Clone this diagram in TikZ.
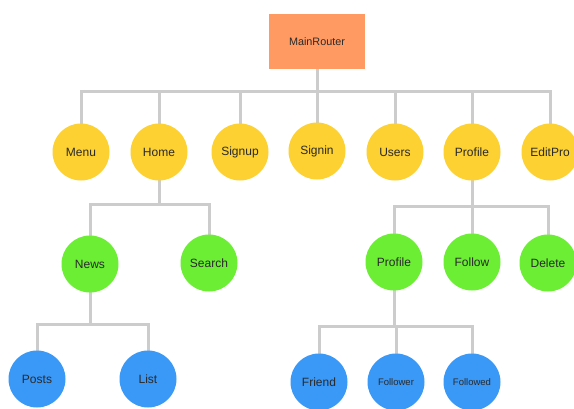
\documentclass[tikz,border=0pt]{standalone}
\usepackage{fontspec}
\setmainfont{Liberation Sans}
\usetikzlibrary{backgrounds}
\definecolor{cOrange}{HTML}{FF9A63}
\definecolor{cYellow}{HTML}{FCD131}
\definecolor{cGreen}{HTML}{6BEE33}
\definecolor{cBlue}{HTML}{3A98F7}
\definecolor{cLine}{HTML}{CCCCCC}
\definecolor{cText}{HTML}{2A2A2A}
\begin{document}
\begin{tikzpicture}[x=1pt,y=-1pt,
  circ/.style={circle,minimum size=57pt,inner sep=0pt,text=cText,font=\fontsize{12}{14}\selectfont},
  yel/.style={circ,fill=cYellow},
  grn/.style={circ,fill=cGreen},
  blu/.style={circ,fill=cBlue},
  small/.style={font=\fontsize{9.5}{11}\selectfont},
  conn/.style={draw=cLine,line width=3pt,line cap=rect}
]
\useasboundingbox (0,0) rectangle (574,408);
\clip (0,0) rectangle (574,408);

\coordinate (b0) at (317,91);
\coordinate (b1) at (159,204);
\coordinate (b2) at (472,206);
\coordinate (b3) at (90,324);
\coordinate (b4) at (394,326);

\node[fill=cOrange,minimum width=96pt,minimum height=55pt,inner sep=0pt,text=cText,font=\fontsize{10.8}{13}\selectfont] (main) at (317,41.5) {MainRouter};

\node[yel] (menu) at (81,152) {Menu};
\node[yel] (home) at (159,152) {Home};
\node[yel] (signup) at (240,152) {Signup};
\node[yel] (signin) at (317,151) {Signin};
\node[yel] (users) at (395,152) {Users};
\node[yel] (profile) at (472,152) {Profile};
\node[yel] (editpro) at (550,152) {EditPro};

\node[grn] (news) at (90,264) {News};
\node[grn] (search) at (209,263) {Search};
\node[grn] (profile2) at (394,262) {Profile};
\node[grn] (follow) at (472,262) {Follow};
\node[grn] (delete) at (548,263) {Delete};

\node[blu] (posts) at (37,379) {Posts};
\node[blu] (list) at (148,379) {List};
\node[blu] (friend) at (319,382) {Friend};
\node[blu,small] (follower) at (396,382) {Follower};
\node[blu,small] (followed) at (472,382) {Followed};

\begin{scope}[on background layer]
\fill[white] (0,0) rectangle (574,408);
% level 1
\draw[conn] (main) -- (b0);
\draw[conn] (b0 -| menu) -- (b0 -| editpro);
\foreach \n in {menu,home,signup,signin,users,profile,editpro}
  \draw[conn] (b0 -| \n) -- (\n);
% Home subtree
\draw[conn] (home) -- (b1);
\draw[conn] (b1 -| news) -- (b1 -| search);
\foreach \n in {news,search}
  \draw[conn] (b1 -| \n) -- (\n);
% Profile subtree
\draw[conn] (profile) -- (b2);
\draw[conn] (b2 -| profile2) -- (b2 -| delete);
\foreach \n in {profile2,follow,delete}
  \draw[conn] (b2 -| \n) -- (\n);
% News subtree
\draw[conn] (news) -- (b3);
\draw[conn] (b3 -| posts) -- (b3 -| list);
\foreach \n in {posts,list}
  \draw[conn] (b3 -| \n) -- (\n);
% Profile2 subtree
\draw[conn] (profile2) -- (b4);
\draw[conn] (b4 -| friend) -- (b4 -| followed);
\foreach \n in {friend,follower,followed}
  \draw[conn] (b4 -| \n) -- (\n);
\end{scope}
\end{tikzpicture}
\end{document}
